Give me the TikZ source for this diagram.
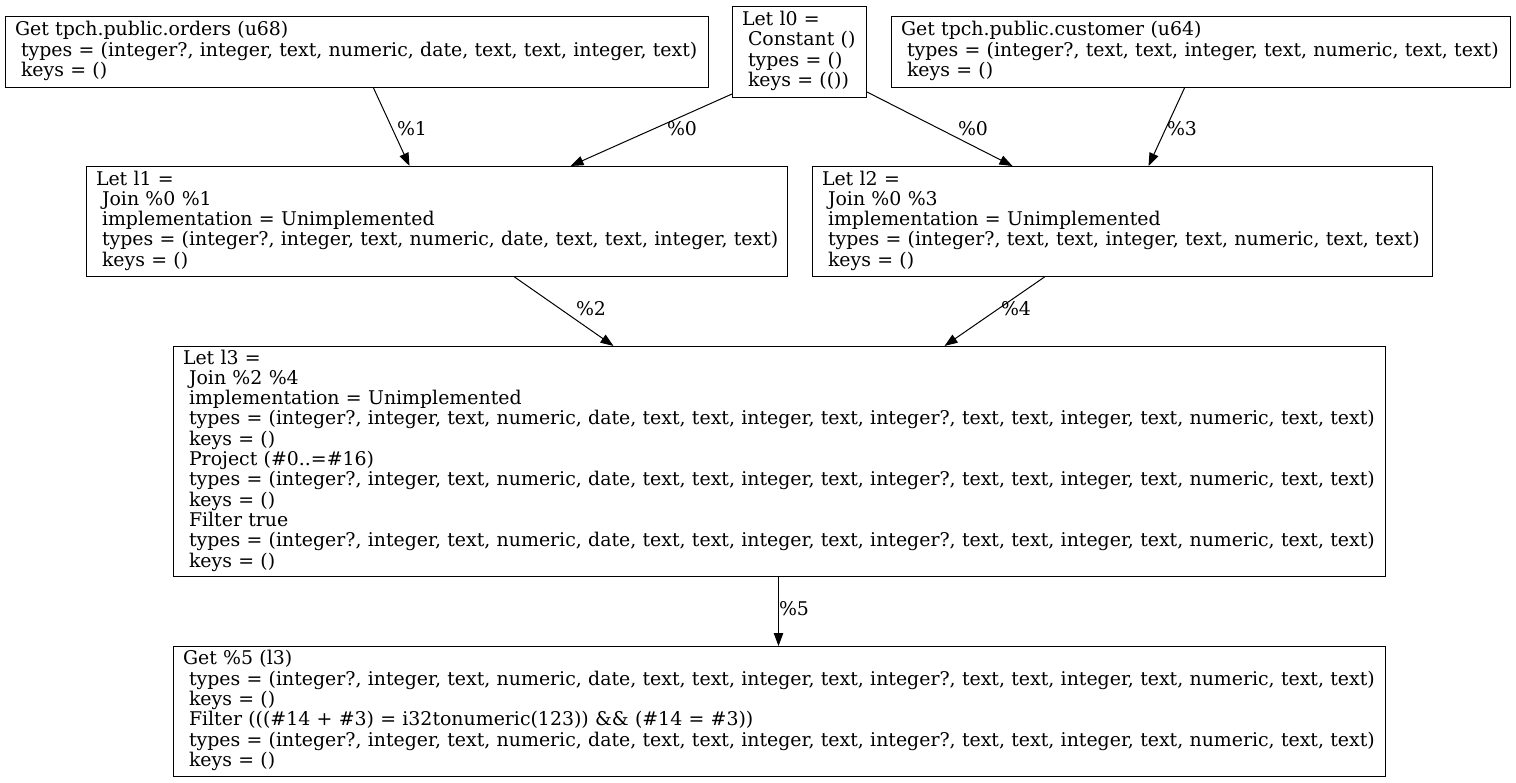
\documentclass[tikz,border=0pt]{standalone}
\usepackage{fontspec}
\setmainfont{DejaVu Serif}
\usetikzlibrary{arrows.meta}
\newcommand{\indsp}{\hspace*{0.318em}}
% lines of an operator box, one per row, never re-wrapped
\newcommand{\oplines}[1]{\begin{tabular}{@{}l@{}}#1\end{tabular}}
\begin{document}
\begin{tikzpicture}[x=1pt,y=-1pt,
  every node/.style={font=\fontsize{18.9}{20}\selectfont},
  opbox/.style={draw=black, line width=1pt, anchor=north west, align=left,
    inner xsep=9.5pt, inner ysep=0pt},
  flow/.style={draw=black, line width=1pt, -{Triangle[length=13pt,width=9.5pt]}},
  edgelabel/.style={inner sep=0pt}]
  \useasboundingbox (0,0) rectangle (1516,783);
  \fill[white] (0,0) rectangle (1516,783);

  % sources
  \node[opbox, minimum width=703pt, minimum height=71pt, text width=684pt] (orders) at (5,16)
    {\oplines{Get tpch.public.orders (u68)\\
     \indsp types = (integer?, integer, text, numeric, date, text, text, integer, text)\\
     \indsp keys = ()}};
  \node[opbox, minimum width=134pt, minimum height=91pt, text width=115pt] (l0) at (732,6)
    {\oplines{Let l0 =\\
     \indsp Constant ()\\
     \indsp types = ()\\
     \indsp keys = (())}};
  \node[opbox, minimum width=619pt, minimum height=71pt, text width=600pt] (customer) at (891,16)
    {\oplines{Get tpch.public.customer (u64)\\
     \indsp types = (integer?, text, text, integer, text, numeric, text, text)\\
     \indsp keys = ()}};

  % joins
  \node[opbox, minimum width=701pt, minimum height=110pt, text width=682pt] (l1) at (86,166)
    {\oplines{Let l1 =\\
     \indsp Join \%0 \%1\\
     \indsp implementation = Unimplemented\\
     \indsp types = (integer?, integer, text, numeric, date, text, text, integer, text)\\
     \indsp keys = ()}};
  \node[opbox, minimum width=620pt, minimum height=110pt, text width=601pt] (l2) at (812,166)
    {\oplines{Let l2 =\\
     \indsp Join \%0 \%3\\
     \indsp implementation = Unimplemented\\
     \indsp types = (integer?, text, text, integer, text, numeric, text, text)\\
     \indsp keys = ()}};

  \node[opbox, minimum width=1212pt, minimum height=230pt, text width=1193pt] (l3) at (173,346)
    {\oplines{Let l3 =\\
     \indsp Join \%2 \%4\\
     \indsp implementation = Unimplemented\\
     \indsp types = (integer?, integer, text, numeric, date, text, text, integer, text, integer?, text, text, integer, text, numeric, text, text)\\
     \indsp keys = ()\\
     \indsp Project (\#0..=\#16)\\
     \indsp types = (integer?, integer, text, numeric, date, text, text, integer, text, integer?, text, text, integer, text, numeric, text, text)\\
     \indsp keys = ()\\
     \indsp Filter true\\
     \indsp types = (integer?, integer, text, numeric, date, text, text, integer, text, integer?, text, text, integer, text, numeric, text, text)\\
     \indsp keys = ()}};

  \node[opbox, minimum width=1212pt, minimum height=130pt, text width=1193pt] (get5) at (173,646)
    {\oplines{Get \%5 (l3)\\
     \indsp types = (integer?, integer, text, numeric, date, text, text, integer, text, integer?, text, text, integer, text, numeric, text, text)\\
     \indsp keys = ()\\
     \indsp Filter (((\#14 + \#3) = i32tonumeric(123)) \&\& (\#14 = \#3))\\
     \indsp types = (integer?, integer, text, numeric, date, text, text, integer, text, integer?, text, text, integer, text, numeric, text, text)\\
     \indsp keys = ()}};

  % connectors
  \draw[flow] ([xshift=16.5pt]orders.south) -- ([xshift=-27.5pt]l1.north)
    node[edgelabel] at (412,129) {\%1};
  \draw[flow] ([yshift=4pt]l0.south west) -- ([xshift=133.5pt]l1.north)
    node[edgelabel] at (682,129) {\%0};
  \draw[flow] ([yshift=6pt]l0.south east) -- ([xshift=-110pt]l2.north)
    node[edgelabel] at (973,129) {\%0};
  \draw[flow] ([xshift=-16.5pt]customer.south) -- ([xshift=26pt]l2.north)
    node[edgelabel] at (1182,129) {\%3};
  \draw[flow] ([xshift=77.5pt]l1.south) -- ([xshift=-166pt]l3.north)
    node[edgelabel] at (591,309) {\%2};
  \draw[flow] ([xshift=-78pt]l2.south) -- ([xshift=165pt]l3.north)
    node[edgelabel] at (1016,309) {\%4};
  \draw[flow] ([xshift=-1pt]l3.south) -- ([xshift=-1pt]get5.north)
    node[edgelabel] at (794,609) {\%5};
\end{tikzpicture}
\end{document}
